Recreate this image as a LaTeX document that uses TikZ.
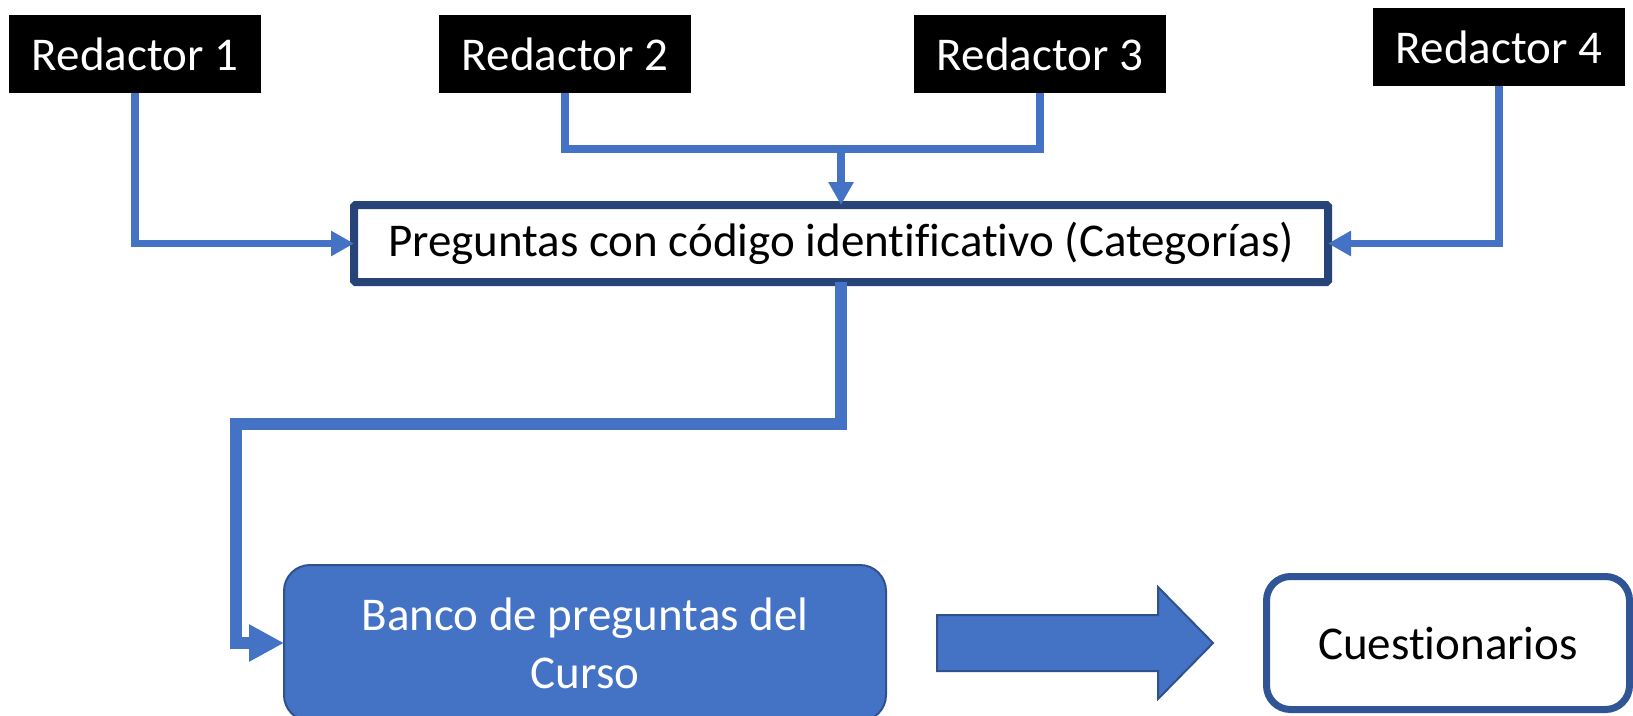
\documentclass[tikz,border=0pt]{standalone}
\usepackage{fontspec}
\setmainfont{Carlito}[Ligatures=NoCommon,Contextuals=NoAlternate,RawFeature={-liga;-clig;-calt}]
\usetikzlibrary{arrows.meta}
\definecolor{conn}{HTML}{4472C4}
\definecolor{pregborder}{HTML}{264478}
\definecolor{cuestborder}{HTML}{2F5597}
\definecolor{bancoborder}{HTML}{2F528F}
\begin{document}
\begin{tikzpicture}[x=1pt,y=-1pt,
  bigfont/.style={font=\fontsize{47}{58}\selectfont},
  redbox/.style={bigfont,fill=black,text=white,minimum width=252pt,minimum height=78pt,inner sep=0pt,outer sep=0pt},
  pregbox/.style={bigfont,draw=pregborder,line width=8pt,fill=white,text=black,minimum width=974pt,minimum height=77pt,inner sep=0pt,outer sep=0pt,rounded corners=1.5pt},
  bancobox/.style={bigfont,draw=bancoborder,line width=2pt,fill=conn,text=white,minimum width=602pt,minimum height=156pt,inner sep=0pt,outer sep=0pt,rounded corners=26pt,align=center},
  cuestbox/.style={bigfont,draw=cuestborder,line width=7pt,fill=white,text=black,minimum width=363pt,minimum height=133pt,inner sep=0pt,outer sep=0pt,rounded corners=24pt},
  thinconn/.style={draw=conn,line width=7.5pt,miter limit=10},
  thinarrow/.style={thinconn,-{Triangle[length=23pt,width=24pt]}},
  thickarrow/.style={draw=conn,line width=12pt,-{Triangle[length=35pt,width=35pt]}},
  blockarrow/.style={fill=conn,draw=bancoborder,line width=2pt,line join=miter}
]
\useasboundingbox (0,0) rectangle (1633,715);
\clip (0,0) rectangle (1633,715);

\node[redbox] (r1) at (135,54) {Redactor 1};
\node[redbox] (r2) at (565,54) {Redactor 2};
\node[redbox] (r3) at (1040,54) {Redactor 3};
\node[redbox] (r4) at (1499,47) {Redactor 4};

\node[pregbox] (preg) at (841,243.5) {Preguntas con código identificativo (Categorías)};

\node[bancobox] (banco) at (585,643) {Banco de preguntas del\\Curso};
\node[cuestbox] (cuest) at (1448,643) {Cuestionarios};

\coordinate (j) at (841,149);
\coordinate (c1) at (236,424);

\draw[thinarrow] (r1.south) |- (preg.west);
\draw[thinarrow] (r4.south) |- (preg.east);
\draw[thinconn] (r2.south) |- (j) -| (r3.south);
\draw[thinarrow] (j) -- (preg.north);
\draw[thickarrow] (preg.south) |- (c1) |- (banco.west);

\draw[blockarrow] (937,615) -- (1158,615) -- (1158,587) -- (1213,643) -- (1158,699) -- (1158,671) -- (937,671) -- cycle;
\end{tikzpicture}
\end{document}
